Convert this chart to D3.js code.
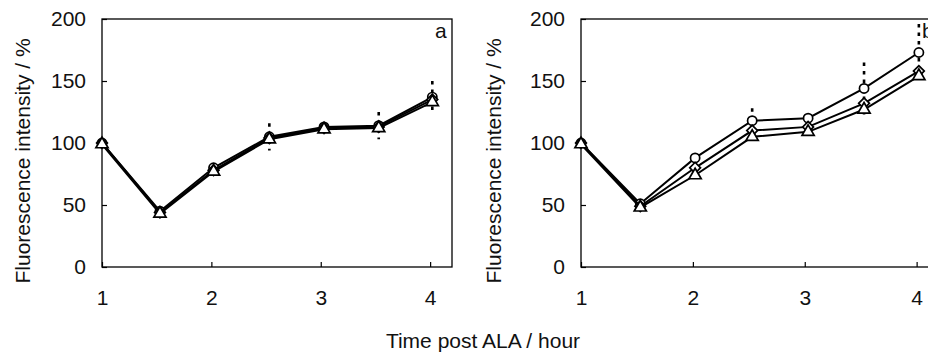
<!DOCTYPE html>
<html>
<head>
<meta charset="utf-8">
<script src="https://cdn.jsdelivr.net/npm/d3@7"></script>
<style>
  body { margin: 0; background: #fff; }
  svg { display: block; font-family: "Liberation Sans", Arial, sans-serif; }
</style>
</head>
<body>
<svg id="chart" width="928" height="354"></svg>
<script>
// time points (hours) shared by both panels
let hours = [1, 1.53, 2.02, 2.53, 3.03, 3.53, 4.02];
let xTicks = [1, 2, 3, 4];
let yTicks = [0, 50, 100, 150, 200];

// panel a
let circleA   = [100, 45, 80, 105, 113, 114, 137];
let diamondA  = [100, 44, 78, 104, 112, 113, 135];
let triangleA = [99, 43, 77, 103, 111, 112, 133];
let sdA       = [0, 0, 0, 11, 0, 11, 13];

// panel b
let circleB   = [100, 51, 88, 118, 120, 144, 173];
let diamondB  = [100, 49, 80, 110, 113, 132, 158];
let triangleB = [99, 48, 74, 105, 109, 127, 154];
let sdB       = [0, 0, 0, 10, 0, 21, 23];

const FS = "21px";
const svg = d3.select("#chart");

function panel(opt){
    let g = svg.append("g");
    let x = d3.scaleLinear().domain([1, 4.2]).range([opt.left, opt.right]);
    let y = d3.scaleLinear().domain([0, 200]).range([267, 19]);

    // frame
    g.append("rect")
        .attr("x", x(1)).attr("y", y(200))
        .attr("width", x(4.2) - x(1)).attr("height", y(0) - y(200))
        .style("fill", "none").style("stroke", "#000").style("stroke-width", 1.3);

    let ax = g.append("g")
        .attr("transform", "translate(0," + y(0) + ")")
        .call(d3.axisBottom(x).tickValues(xTicks).tickFormat(d3.format("d"))
            .tickSizeInner(-5).tickSizeOuter(0).tickPadding(14));
    let ay = g.append("g")
        .attr("transform", "translate(" + x(1) + ",0)")
        .call(d3.axisLeft(y).tickValues(yTicks)
            .tickSizeInner(-5).tickSizeOuter(0).tickPadding(16));
    [ax, ay].forEach(a => {
        a.select(".domain").remove();
        a.selectAll("line").style("stroke", "#000").style("stroke-width", 1.2);
        a.selectAll("text")
            .style("font-family", "'Liberation Sans', Arial, sans-serif")
            .style("font-size", FS).style("fill", "#111");
    });
    ax.selectAll("text").attr("y", 38).attr("dy", 0);

    // y title
    g.append("text")
        .attr("transform", "translate(" + opt.titleX + ",161) rotate(-90)")
        .style("text-anchor", "middle")
        .style("font-size", FS).style("fill", "#111")
        .text("Fluorescence intensity / %");

    // panel letter
    g.append("text")
        .attr("x", x(4.2) - 17).attr("y", 38)
        .style("font-size", FS).style("fill", "#111")
        .text(opt.label);

    // error bars on circle series
    g.append("g").selectAll("line")
        .data(hours.map((h, i) => [h, opt.series[0][i], opt.sd[i]]).filter(d => d[2] > 0))
        .enter().append("line")
        .attr("x1", d => x(d[0])).attr("x2", d => x(d[0]))
        .attr("y1", d => y(d[1] + d[2])).attr("y2", d => y(d[1] - d[2]))
        .style("stroke", "#000").style("stroke-width", 2.6)
        .style("stroke-dasharray", "3.5,5");

    let line = d3.line().x((d, i) => x(hours[i])).y(d => y(d));
    let shapes = [
        d3.symbol().type(d3.symbolCircle).size(Math.PI * 4.6 * 4.6),
        d3.symbol().type(d3.symbolSquare).size(58),
        d3.symbol().type(d3.symbolTriangle).size(64)
    ];
    opt.series.forEach((s, k) => {
        g.append("path").datum(s)
            .attr("d", line)
            .style("fill", "none").style("stroke", "#000").style("stroke-width", 2);
        g.append("g").selectAll("path")
            .data(s).enter().append("path")
            .attr("d", shapes[k])
            .attr("transform", (d, i) => "translate(" + x(hours[i]) + "," + y(d) + ")" + (k === 1 ? " rotate(45)" : ""))
            .style("fill", "#fff").style("stroke", "#000").style("stroke-width", 1.7);
    });
}

panel({left: 102, right: 452, titleX: 30, series: [circleA, diamondA, triangleA], sd: sdA, label: "a"});
panel({left: 581, right: 939, titleX: 501, series: [circleB, diamondB, triangleB], sd: sdB, label: "b"});

svg.append("text")
    .attr("x", 483).attr("y", 348)
    .style("text-anchor", "middle")
    .style("font-size", FS).style("fill", "#111")
    .text("Time post ALA / hour");
</script>
</body>
</html>
